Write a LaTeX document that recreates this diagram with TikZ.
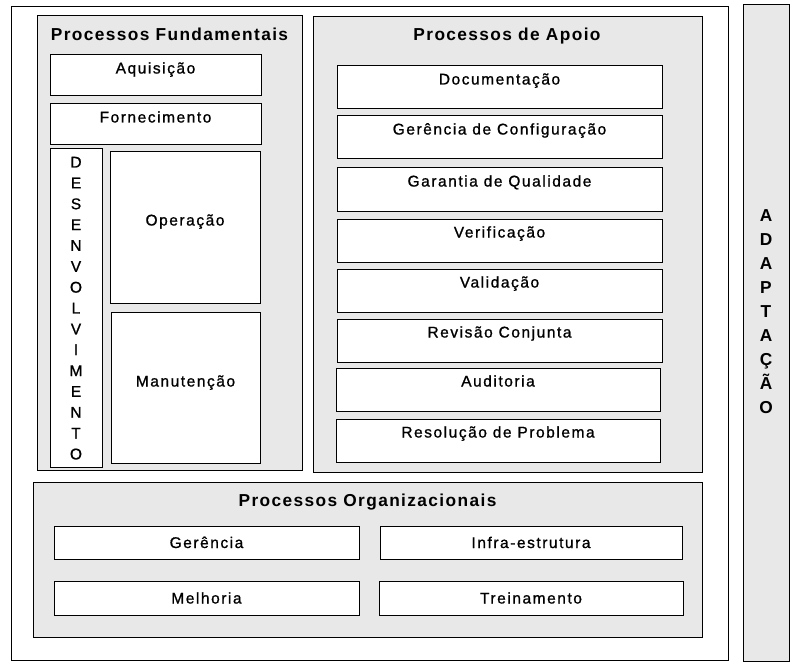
\documentclass[tikz,border=0pt]{standalone}
\usepackage{fontspec}
\setmainfont{Liberation Sans}
\newfontfamily\lblfont{Liberation Sans}[LetterSpace=10, FakeBold=1]
\newfontfamily\ttlfont{Liberation Sans Bold}[LetterSpace=8]
\definecolor{panel}{HTML}{E8E8E8}
\begin{document}
\begin{tikzpicture}[x=1pt,y=-1pt,
  box/.style={draw=black, line width=1pt, inner sep=0pt, outer sep=0pt, anchor=north west, rectangle},
  wbox/.style={box, fill=white},
  gbox/.style={box, fill=panel},
  lbl/.style={inner sep=0pt, anchor=base, font=\lblfont\fontsize{15.5}{18}\selectfont},
  ttl/.style={inner sep=0pt, anchor=base, font=\ttlfont\fontsize{17.3}{20}\selectfont}]
\useasboundingbox (0,0) rectangle (808,671);
% outer frames
\node[wbox, minimum width=717pt, minimum height=653pt] (outer) at (11,7) {};
\node[gbox, minimum width=46pt, minimum height=656pt] (adapt) at (743,5) {};
% group panels
\node[gbox, minimum width=265pt, minimum height=454pt] (fund) at (37,16) {};
\node[gbox, minimum width=389pt, minimum height=455pt] (apoio) at (313,17) {};
\node[gbox, minimum width=669pt, minimum height=155pt] (org) at (33,482) {};
% titles
\node[ttl] (tfund) at (169.5,40.7) {Processos Fundamentais};
\node[ttl] (tapoio) at (507,40.7) {Processos de Apoio};
\node[ttl] (torg) at (367.5,506.7) {Processos Organizacionais};
% Fundamentais
\node[wbox, minimum width=211pt, minimum height=41pt] (aq) at (50,55) {};
\node[lbl] (laq) at ([yshift=-18.5pt]aq.north) {Aquisição};
\node[wbox, minimum width=211pt, minimum height=41pt] (forn) at (50,104) {};
\node[lbl] (lforn) at ([yshift=-18.5pt]forn.north) {Fornecimento};
\node[wbox, minimum width=52pt, minimum height=318pt] (desenv) at (50,149) {};
\foreach \ch [count=\i] in {D,E,S,E,N,V,O,L,V,I,M,E,N,T,O}
  \node[lbl] (dv\i) at (76,{167.5+20.85*(\i-1)}) {\ch};
\node[wbox, minimum width=150pt, minimum height=151pt] (oper) at (110,152) {};
\node[lbl] (loper) at (185,225.5) {Operação};
\node[wbox, minimum width=149pt, minimum height=151pt] (manut) at (111,312) {};
\node[lbl] (lmanut) at (185.5,386.5) {Manutenção};
% Apoio
\node[wbox, minimum width=325pt, minimum height=43pt] (doc) at (337,66) {};
\node[lbl] (ldoc) at ([yshift=-18.5pt]doc.north) {Documentação};
\node[wbox, minimum width=325pt, minimum height=43pt] (gcf) at (337,116) {};
\node[lbl] (lgcf) at ([yshift=-18.5pt]gcf.north) {Gerência de Configuração};
\node[wbox, minimum width=325pt, minimum height=43pt] (gq) at (337,168) {};
\node[lbl] (lgq) at ([yshift=-18.5pt]gq.north) {Garantia de Qualidade};
\node[wbox, minimum width=325pt, minimum height=43pt] (ver) at (337,219) {};
\node[lbl] (lver) at ([yshift=-18.5pt]ver.north) {Verificação};
\node[wbox, minimum width=325pt, minimum height=43pt] (val) at (337,269) {};
\node[lbl] (lval) at ([yshift=-18.5pt]val.north) {Validação};
\node[wbox, minimum width=325pt, minimum height=43pt] (rev) at (337,319) {};
\node[lbl] (lrev) at ([yshift=-18.5pt]rev.north) {Revisão Conjunta};
\node[wbox, minimum width=324pt, minimum height=43pt] (aud) at (336,368) {};
\node[lbl] (laud) at ([yshift=-18.5pt]aud.north) {Auditoria};
\node[wbox, minimum width=324pt, minimum height=43pt] (res) at (336,419) {};
\node[lbl] (lres) at ([yshift=-18.5pt]res.north) {Resolução de Problema};
% Organizacionais
\node[wbox, minimum width=305pt, minimum height=33pt] (ger) at (54,526) {};
\node[lbl] (lger) at ([yshift=-5.5pt]ger.center) {Gerência};
\node[wbox, minimum width=305pt, minimum height=34pt] (mel) at (54,581) {};
\node[lbl] (lmel) at ([yshift=-5.5pt]mel.center) {Melhoria};
\node[wbox, minimum width=302pt, minimum height=33pt] (inf) at (380,526) {};
\node[lbl] (linf) at ([yshift=-5.5pt]inf.center) {Infra-estrutura};
\node[wbox, minimum width=304pt, minimum height=34pt] (tre) at (379,581) {};
\node[lbl] (ltre) at ([yshift=-5.5pt]tre.center) {Treinamento};
% Adaptacao
\foreach \ch [count=\i] in {A,D,A,P,T,A,Ç,Ã,O}
  \node[ttl] (ad\i) at (766,{221+24.1*(\i-1)}) {\ch};
\end{tikzpicture}
\end{document}
